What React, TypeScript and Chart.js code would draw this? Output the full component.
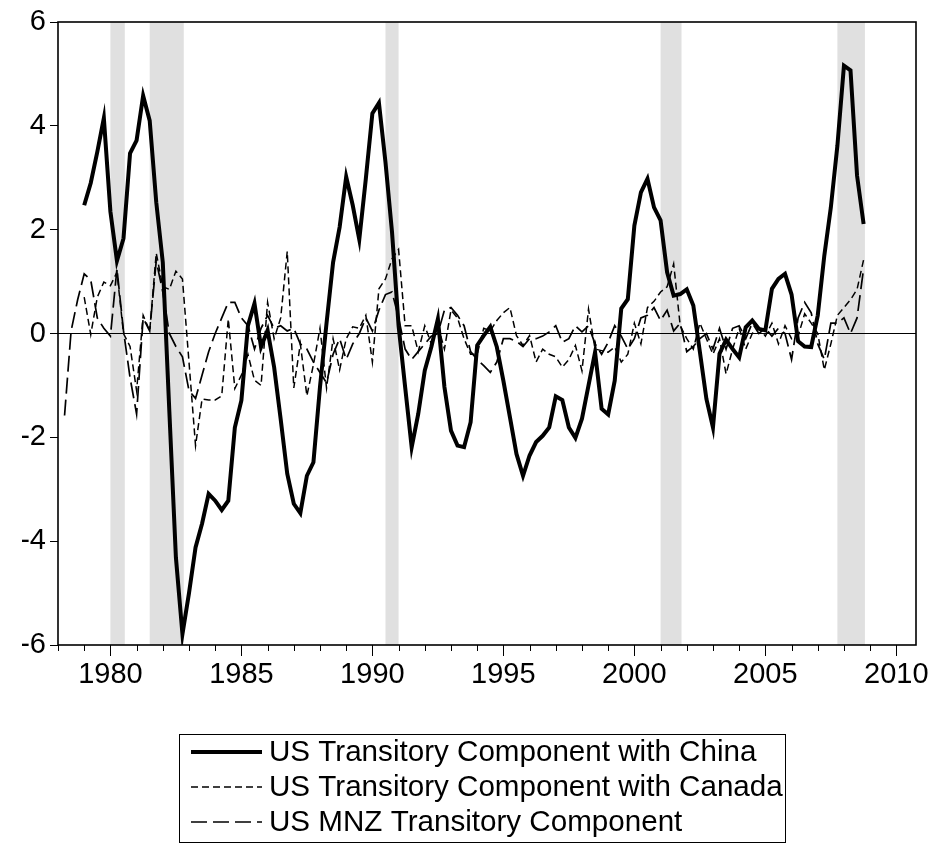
import React, { useEffect, useRef } from 'react';
import { Chart, registerables } from 'chart.js';

Chart.register(...registerables);

// ---------- data (quarterly) ----------
const chinaStart = 1979.0;
const chinaValues = [
  2.47, 2.9, 3.5, 4.15,
  2.35, 1.4, 1.83, 3.47,
  3.72, 4.58, 4.1, 2.53,
  1.37, -1.5, -4.31, -5.79,
  -5.0, -4.12, -3.66, -3.09,
  -3.22, -3.4, -3.22, -1.81,
  -1.29, 0.15, 0.58, -0.26,
  0.06, -0.65, -1.65, -2.7,
  -3.28, -3.46, -2.74, -2.48,
  -1.03, 0.2, 1.37, 2.05,
  3.02, 2.47, 1.81, 2.98,
  4.24, 4.44, 3.3, 1.95,
  0.15, -1.03, -2.19, -1.55,
  -0.71, -0.26, 0.28, -1.03,
  -1.87, -2.16, -2.19, -1.71,
  -0.23, -0.04, 0.13, -0.26,
  -0.91, -1.61, -2.32, -2.74,
  -2.35, -2.09, -1.97, -1.81,
  -1.21, -1.28, -1.81, -2.01,
  -1.64, -1.0, -0.36, -1.45,
  -1.56, -0.91, 0.48, 0.66,
  2.08, 2.72, 2.98, 2.43,
  2.18, 1.18, 0.73, 0.76,
  0.85, 0.54, -0.35, -1.26,
  -1.81, -0.39, -0.12, -0.3,
  -0.46, 0.12, 0.25, 0.09,
  0.06, 0.86, 1.05, 1.15,
  0.75, -0.15, -0.25, -0.26,
  0.35, 1.5, 2.43, 3.62,
  5.16, 5.07, 3.04, 2.11,
];

const canadaStart = 1979.0;
const canadaValues = [
  0.7, -0.02, 0.7, 0.99,
  0.92, 1.18, 0.0, -0.25,
  -1.1, 0.35, 0.05, 1.55,
  0.9, 0.85, 1.2, 1.05,
  -0.55, -2.16, -1.26, -1.28,
  -1.28, -1.2, 0.28, -1.06,
  -0.8, -0.4, -0.9, -1.0,
  0.6, -0.1, 0.3, 1.58,
  -1.05, -0.2, -1.2, -0.6,
  0.1, -1.05, -0.1, -0.7,
  -0.1, 0.13, 0.1, 0.35,
  -0.55, 0.86, 1.05, 1.44,
  1.62, 0.15, 0.15, -0.35,
  0.15, -0.2, 0.15, -0.3,
  0.45, 0.3, -0.1, -0.4,
  -0.4, 0.1, 0.05, 0.25,
  0.4, 0.5, -0.04, -0.23,
  -0.04, -0.55, -0.3, -0.4,
  -0.45, -0.65, -0.5, -0.23,
  -0.72, 0.47, -0.3, -0.33,
  -0.36, -0.26, -0.55, -0.4,
  0.2, -0.2, 0.5, 0.62,
  0.8, 0.9, 1.34, 0.15,
  -0.1, -0.3, 0.2, -0.1,
  -0.4, -0.1, -0.78, -0.3,
  0.1, -0.3, 0.0, 0.1,
  -0.05, 0.2, -0.2, 0.15,
  -0.1, -0.05, 0.38, 0.2,
  0.0, -0.7, -0.2, 0.35,
  0.5, 0.65, 0.85, 1.42,
];

const mnzStart = 1978.25;
const mnzValues = [
  -1.58, 0.05, 0.65,
  1.15, 1.03, 0.3, 0.1,
  -0.05, 1.25, 0.05, -0.85,
  -1.55, 0.3, 0.05, 1.4,
  0.8, 0.0, -0.25, -0.45,
  -1.1, -1.25, -0.8, -0.35,
  0.0, 0.3, 0.6, 0.6,
  0.3, 0.15, -0.3, 0.1,
  0.35, 0.1, 0.15, 0.05,
  0.1, -0.2, -0.3, -0.55,
  -0.75, -0.95, -0.4, -0.1,
  -0.5, -0.2, 0.0, 0.3,
  0.05, 0.45, 0.75, 0.8,
  0.3, -0.3, -0.5, -0.35,
  -0.2, -0.05, 0.0, 0.45,
  0.5, 0.35, 0.15, -0.35,
  -0.5, -0.62, -0.75, -0.55,
  -0.1, -0.1, -0.15, -0.25,
  -0.1, -0.1, -0.05, 0.03,
  0.15, -0.17, -0.1, 0.15,
  0.03, 0.15, -0.2, -0.4,
  -0.17, 0.15, -0.05, -0.3,
  -0.1, 0.3, 0.35, 0.5,
  0.25, 0.45, 0.05, 0.2,
  -0.35, -0.25, -0.1, 0.0,
  -0.3, 0.1, -0.3, 0.1,
  0.15, -0.1, 0.2, 0.0,
  0.1, -0.05, 0.1, 0.0,
  -0.5, 0.3, 0.6, 0.4,
  -0.2, -0.5, 0.2, 0.2,
  0.3, 0.0, 0.3, 1.25,
];

const seriesLabels = [
  'US Transitory Component with China',
  'US Transitory Component with Canada',
  'US MNZ Transitory Component',
];

const xTickYears = [1980, 1985, 1990, 1995, 2000, 2005, 2010];
const xMinorYears = [
  1978, 1979, 1981, 1982, 1983, 1984, 1986, 1987, 1988, 1989, 1991, 1992, 1993, 1994,
  1996, 1997, 1998, 1999, 2001, 2002, 2003, 2004, 2006, 2007, 2008, 2009,
];
const yTickValues = [-6, -4, -2, 0, 2, 4, 6];

const recessionStarts = [1980.0, 1981.5, 1990.5, 2001.0, 2007.75];
const recessionEnds = [1980.55, 1982.8, 1991.0, 2001.8, 2008.8];

// ---------- helpers ----------
const FONT = "'Liberation Sans', Arial, Helvetica, sans-serif";

const toPoints = (start: number, values: number[]) =>
  values.map((v, i) => ({ x: start + i / 4, y: v }));

const shadePlugin = {
  id: 'recessionShade',
  beforeDraw(chart: any) {
    const { ctx, chartArea, scales } = chart;
    const xs = scales.x;
    ctx.save();
    ctx.fillStyle = '#e0e0e0';
    recessionStarts.forEach((s, i) => {
      const x0 = xs.getPixelForValue(s);
      const x1 = xs.getPixelForValue(recessionEnds[i]);
      ctx.fillRect(x0, chartArea.top, x1 - x0, chartArea.bottom - chartArea.top);
    });
    ctx.restore();
  },
};

const framePlugin = {
  id: 'frameAndMinorTicks',
  afterDatasetsDraw(chart: any) {
    const { ctx, chartArea, scales } = chart;
    ctx.save();
    ctx.strokeStyle = '#000';
    ctx.lineWidth = 1.6;
    ctx.strokeRect(chartArea.left, chartArea.top, chartArea.right - chartArea.left, chartArea.bottom - chartArea.top);
    ctx.lineWidth = 1;
    ctx.beginPath();
    xMinorYears.forEach((yr) => {
      const px = Math.round(scales.x.getPixelForValue(yr)) + 0.5;
      ctx.moveTo(px, chartArea.bottom);
      ctx.lineTo(px, chartArea.bottom + 6);
    });
    ctx.stroke();
    ctx.restore();
  },
};

const legendPlugin = {
  id: 'boxedLegend',
  afterDraw(chart: any) {
    const { ctx } = chart;
    const boxX = 179.5, boxY = 734.5, boxW = 606, boxH = 108;
    const rowY = [752, 787, 822];
    ctx.save();
    ctx.strokeStyle = '#000';
    ctx.lineWidth = 1;
    ctx.strokeRect(boxX, boxY, boxW, boxH);
    chart.data.datasets.forEach((ds: any, i: number) => {
      const cy = rowY[i];
      ctx.beginPath();
      ctx.setLineDash(ds.borderDash || []);
      ctx.lineWidth = ds.borderWidth;
      ctx.strokeStyle = ds.borderColor;
      ctx.moveTo(191, cy);
      ctx.lineTo(262, cy);
      ctx.stroke();
      ctx.setLineDash([]);
      ctx.fillStyle = '#000';
      ctx.font = `29.6px ${FONT}`;
      ctx.textBaseline = 'middle';
      ctx.textAlign = 'left';
      ctx.fillText(ds.label, 269, cy + 1);
    });
    ctx.restore();
  },
};

export default function App() {
  const ref = useRef<HTMLCanvasElement | null>(null);

  useEffect(() => {
    document.body.style.margin = '0';
    const canvas = ref.current;
    if (!canvas) return;
    Chart.defaults.font.family = FONT;

    const chart = new Chart(canvas, {
      type: 'line',
      data: {
        datasets: [
          {
            label: seriesLabels[0],
            data: toPoints(chinaStart, chinaValues),
            borderColor: '#000',
            borderWidth: 4,
            borderDash: [],
            pointRadius: 0,
            tension: 0,
          },
          {
            label: seriesLabels[1],
            data: toPoints(canadaStart, canadaValues),
            borderColor: '#000',
            borderWidth: 1.5,
            borderDash: [7, 4],
            pointRadius: 0,
            tension: 0,
          },
          {
            label: seriesLabels[2],
            data: toPoints(mnzStart, mnzValues),
            borderColor: '#000',
            borderWidth: 1.7,
            borderDash: [16, 6],
            pointRadius: 0,
            tension: 0,
          },
        ],
      },
      options: {
        responsive: false,
        animation: false,
        devicePixelRatio: 1,
        layout: { padding: { left: 22, right: 18, top: 22, bottom: 141 } },
        plugins: {
          legend: { display: false },
          tooltip: { enabled: false },
        },
        scales: {
          x: {
            type: 'linear',
            min: 1978,
            max: 2010.75,
            afterBuildTicks: (s: any) => {
              s.ticks = xTickYears.map((v) => ({ value: v }));
            },
            afterFit: (s: any) => {
              s.height = 60;
            },
            border: { display: false },
            grid: {
              drawOnChartArea: false,
              drawTicks: true,
              tickLength: 11,
              tickColor: '#000',
              tickWidth: 1,
            },
            ticks: {
              color: '#000',
              font: { size: 29, family: FONT },
              padding: 2,
              maxRotation: 0,
              autoSkip: false,
              callback: (v: any) => String(v),
            },
          },
          y: {
            type: 'linear',
            min: -6,
            max: 6,
            afterBuildTicks: (s: any) => {
              s.ticks = yTickValues.map((v) => ({ value: v }));
            },
            afterFit: (s: any) => {
              s.width = 36;
            },
            border: { display: false },
            grid: {
              color: (c: any) => (c.tick && c.tick.value === 0 ? '#000' : 'rgba(0,0,0,0)'),
              lineWidth: 1,
              drawTicks: true,
              tickLength: 8,
              tickColor: '#000',
            },
            ticks: {
              color: '#000',
              font: { size: 29, family: FONT },
              padding: 4,
              callback: (v: any) => String(v),
            },
          },
        },
      },
      plugins: [shadePlugin, framePlugin, legendPlugin],
    } as any);

    return () => chart.destroy();
  }, []);

  return (
    <canvas
      ref={ref}
      width={934}
      height={846}
      style={{ width: '934px', height: '846px', display: 'block' }}
    />
  );
}
